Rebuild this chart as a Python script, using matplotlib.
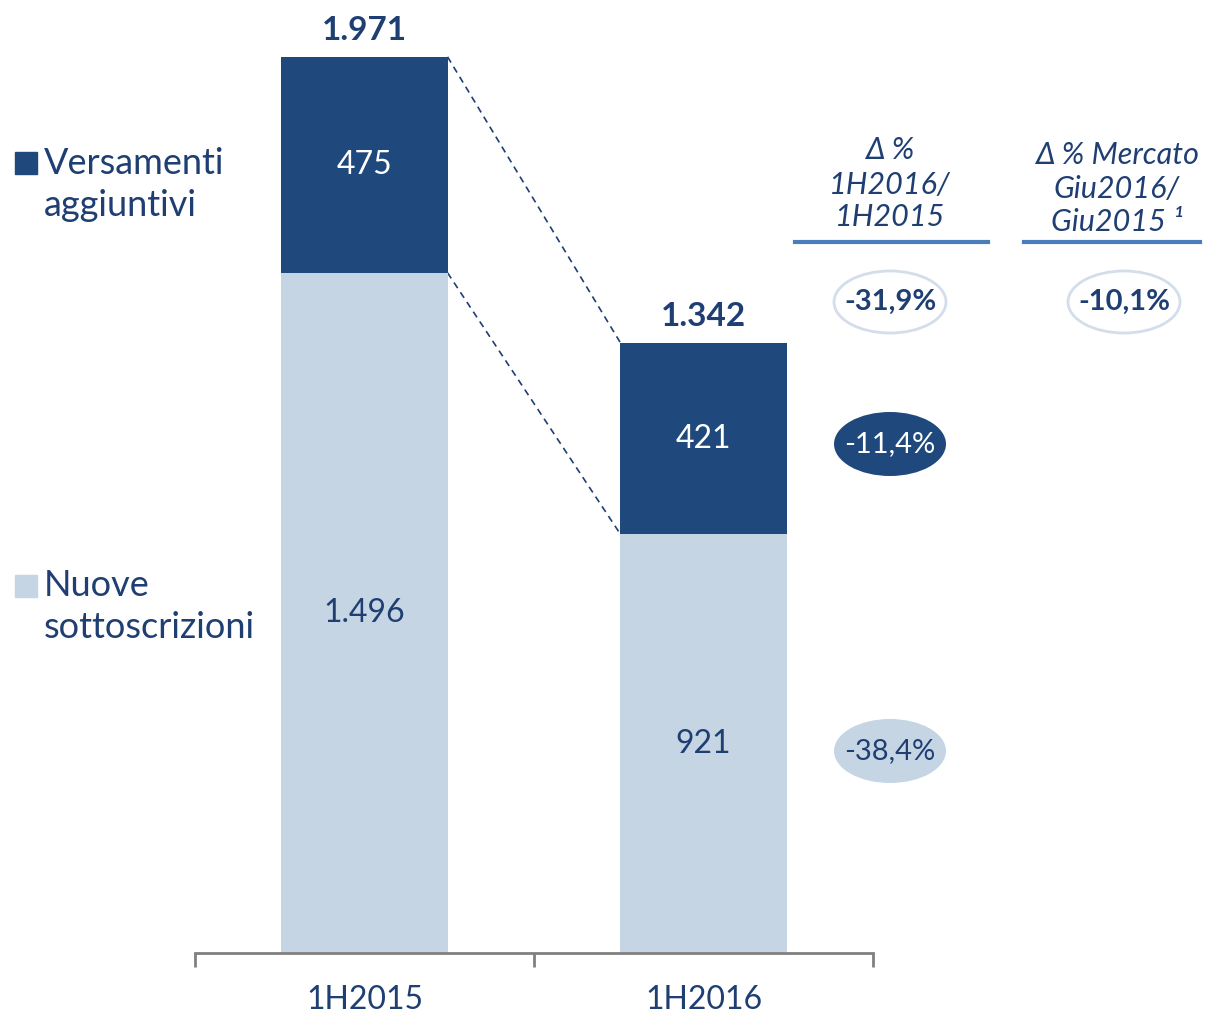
import matplotlib.pyplot as plt
from matplotlib.patches import Ellipse, Rectangle

plt.rcParams['font.family'] = ['Lato', 'DejaVu Sans']

periods = ['1H2015', '1H2016']
nuove = [1496, 921]
versamenti = [475, 421]
totals = [1971, 1342]
nuove_lbl = ['1.496', '921']
vers_lbl = ['475', '421']
tot_lbl = ['1.971', '1.342']
delta_tot = '-31,9%'
delta_mercato = '-10,1%'
delta_vers = '-11,4%'
delta_nuove = '-38,4%'

dark = '#1F497D'
light = '#C5D5E4'
txt = '#1F3F73'
line_blue = '#4A7EBB'

fig = plt.figure(figsize=(12.11, 10.17), dpi=100)
ax = fig.add_axes([195/1211, (1017-953)/1017, 678/1211, 943/1017])
x = [0, 1]
w = 0.49
ax.bar(x, nuove, width=w, color=light, zorder=2)
ax.bar(x, versamenti, width=w, bottom=nuove, color=dark, zorder=2)
ax.set_xlim(-0.5, 1.5)
ax.set_ylim(0, 2074)

for i in x:
    ax.text(i, nuove[i]/2, nuove_lbl[i], ha='center', va='center', fontsize=23, color=txt)
    ax.text(i, nuove[i] + versamenti[i]/2, vers_lbl[i], ha='center', va='center', fontsize=23, color='white')
    ax.text(i, totals[i] + 25, tot_lbl[i], ha='center', va='bottom', fontsize=24, fontweight='bold', color=txt)

# dashed connectors
ax.plot([w/2, 1-w/2], [totals[0], totals[1]], ls=(0, (4, 3)), color=txt, lw=1.2, zorder=1)
ax.plot([w/2, 1-w/2], [nuove[0], nuove[1]], ls=(0, (4, 3)), color=txt, lw=1.2, zorder=1)

for s in ['top', 'right', 'left']:
    ax.spines[s].set_visible(False)
ax.spines['bottom'].set_color('#808080')
ax.spines['bottom'].set_linewidth(2)
ax.set_yticks([])
ax.set_xticks([-0.5, 0.5, 1.5])
ax.set_xticklabels([])
ax.tick_params(axis='x', length=10, width=2, color='#808080', direction='out')
for i in x:
    ax.text(i, -47/943, periods[i], transform=ax.get_xaxis_transform(), ha='center', va='center',
            fontsize=23, color=txt)

# overlay in pixel coordinates for annotations
ov = fig.add_axes([0, 0, 1, 1])
ov.set_xlim(0, 1211)
ov.set_ylim(1017, 0)
ov.axis('off')

# legend
ov.add_patch(Rectangle((15, 152), 22, 22, color=dark))
ov.text(44, 163, 'Versamenti', fontsize=26, color=txt, va='center', ha='left')
ov.text(44, 205, 'aggiuntivi', fontsize=26, color=txt, va='center', ha='left')
ov.add_patch(Rectangle((15, 575), 22, 22, color=light))
ov.text(44, 585, 'Nuove', fontsize=26, color=txt, va='center', ha='left')
ov.text(44, 628, 'sottoscrizioni', fontsize=26, color=txt, va='center', ha='left')

# headers
for yy, s in zip([150, 185, 217], ['Δ %', '1H2016/', '1H2015']):
    ov.text(890, yy, s, fontsize=22, style='italic', color=txt, ha='center', va='center')
for yy, s in zip([155, 189, 222], ['Δ % Mercato', 'Giu2016/', 'Giu2015 ¹']):
    ov.text(1117, yy, s, fontsize=22, style='italic', color=txt, ha='center', va='center')
ov.plot([795, 988], [242, 242], color=line_blue, lw=3)
ov.plot([1024, 1200], [242, 242], color=line_blue, lw=3)

# ellipses
ov.add_patch(Ellipse((890, 302), 112, 62, facecolor='white', edgecolor='#D3DEEA', lw=2))
ov.text(890, 302, delta_tot, fontsize=21, fontweight='bold', color=txt, ha='center', va='center')
ov.add_patch(Ellipse((1124, 302), 112, 62, facecolor='white', edgecolor='#D3DEEA', lw=2))
ov.text(1124, 302, delta_mercato, fontsize=21, fontweight='bold', color=txt, ha='center', va='center')
ov.add_patch(Ellipse((890, 444), 112, 64, facecolor=dark, edgecolor='none'))
ov.text(890, 444, delta_vers, fontsize=21, color='white', ha='center', va='center')
ov.add_patch(Ellipse((890, 751), 112, 64, facecolor=light, edgecolor='none'))
ov.text(890, 751, delta_nuove, fontsize=21, color=txt, ha='center', va='center')

fig.savefig('out.png', dpi=100)
